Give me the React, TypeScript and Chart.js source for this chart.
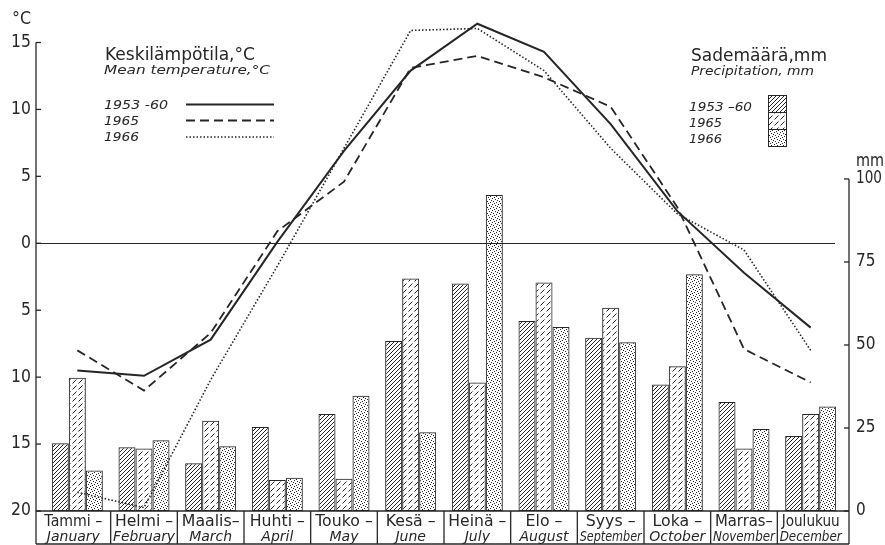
import React, { useEffect, useRef } from "react";
import { Chart, registerables } from "chart.js";

Chart.register(...registerables);

// ---------- data ----------
const monthsFi = ["Tammi –", "Helmi –", "Maalis–", "Huhti –", "Touko –", "Kesä –", "Heinä –", "Elo –", "Syys –", "Loka –", "Marras–", "Joulukuu"];
const monthsEn = ["January", "February", "March", "April", "May", "June", "July", "August", "September", "October", "November", "December"];

const temp1953_60 = [-9.5, -9.9, -7.2, 0.1, 6.9, 12.9, 16.4, 14.3, 8.9, 2.4, -2.2, -6.3];
const temp1965 = [-8.0, -11.0, -6.7, 0.9, 4.6, 13.1, 14.0, 12.4, 10.2, 2.7, -7.9, -10.4];
const temp1966 = [-18.6, -19.75, -10.2, -1.7, 7.1, 15.9, 16.05, 12.9, 7.1, 2.2, -0.5, -8.0];

const prec1953_60 = [20.4, 19.2, 14.4, 25.3, 29.2, 51.2, 68.5, 57.2, 52.2, 38.1, 32.8, 22.6];
const prec1965 = [40.1, 18.8, 27.2, 9.3, 9.7, 70.0, 38.7, 68.8, 61.2, 43.6, 18.8, 29.2];
const prec1966 = [12.2, 21.3, 19.5, 10.0, 34.7, 23.7, 95.2, 55.4, 50.8, 71.3, 24.7, 31.5];

const tempTicks = [15, 10, 5, 0, -5, -10, -15, -20];
const precTicks = [0, 25, 50, 75, 100];
const seriesLabels = ["1953 –60", "1965", "1966"];

const INK = "#262626";
const FONT = "'DejaVu Sans', 'Liberation Sans', sans-serif";

function makePattern(kind: string): CanvasPattern | string {
  const c = document.createElement("canvas");
  const ctx = c.getContext("2d")!;
  if (kind === "dense") {
    c.width = 4; c.height = 4;
    ctx.strokeStyle = INK; ctx.lineWidth = 1;
    ctx.beginPath();
    ctx.moveTo(-1, 5); ctx.lineTo(5, -1);
    ctx.moveTo(-1, 1); ctx.lineTo(1, -1);
    ctx.moveTo(3, 5); ctx.lineTo(5, 3);
    ctx.stroke();
  } else if (kind === "dash") {
    c.width = 12; c.height = 12;
    ctx.strokeStyle = INK; ctx.lineWidth = 1;
    ctx.beginPath();
    ctx.moveTo(0.5, 5.5); ctx.lineTo(4.5, 1.5);
    ctx.moveTo(6.5, 11.5); ctx.lineTo(10.5, 7.5);
    ctx.moveTo(6.5, 5.5); ctx.lineTo(10.5, 1.5);
    ctx.moveTo(0.5, 11.5); ctx.lineTo(4.5, 7.5);
    ctx.stroke();
  } else {
    c.width = 6; c.height = 6;
    ctx.fillStyle = INK;
    const dots = [[0, 0], [3, 1], [1, 3], [4, 4], [5, 2], [2, 5]];
    for (const [x, y] of dots) ctx.fillRect(x, y, 1, 1);
  }
  return ctx.createPattern(c, "repeat") || INK;
}

function txt(ctx: CanvasRenderingContext2D, s: string, x: number, y: number, font: string, align: string, width?: number) {
  ctx.save();
  ctx.font = font;
  ctx.fillStyle = INK;
  ctx.textAlign = "left";
  ctx.textBaseline = "middle";
  const w = ctx.measureText(s).width;
  const tw = width ?? w;
  const sx = tw / w;
  const left = align === "center" ? x - tw / 2 : align === "right" ? x - tw : x;
  ctx.translate(left, y);
  ctx.scale(sx, 1);
  ctx.fillText(s, 0, 0);
  ctx.restore();
}

function natW(ctx: CanvasRenderingContext2D, s: string, font: string, k: number) {
  ctx.save();
  ctx.font = font;
  const w = ctx.measureText(s).width * k;
  ctx.restore();
  return w;
}

export default function App() {
  const ref = useRef<HTMLCanvasElement>(null);
  useEffect(() => {
    const canvas = ref.current!;
    const pats = [makePattern("dense"), makePattern("dash"), makePattern("dots")];
    const AX_L = 36, AX_R = 849, BOX_B = 544;

    const decor = {
      id: "decor",
      beforeDatasetsDraw(chart: any) {
        const ctx = chart.ctx as CanvasRenderingContext2D;
        const yT = chart.scales.yT;
        const y0 = Math.round(yT.getPixelForValue(0)) + 0.5;
        ctx.save();
        ctx.strokeStyle = INK; ctx.lineWidth = 1.2;
        ctx.beginPath(); ctx.moveTo(AX_L, y0); ctx.lineTo(835, y0); ctx.stroke();
        ctx.restore();
      },
      afterDraw(chart: any) {
        const ctx = chart.ctx as CanvasRenderingContext2D;
        const x = chart.scales.x, yT = chart.scales.yT, yP = chart.scales.yP;
        const numFont = `17px ${FONT}`;
        ctx.save();
        ctx.strokeStyle = INK; ctx.lineWidth = 1.3; ctx.setLineDash([]);
        // left axis
        const yTop = yT.getPixelForValue(15);
        ctx.beginPath(); ctx.moveTo(AX_L, yTop); ctx.lineTo(AX_L, BOX_B); ctx.stroke();
        for (const t of tempTicks) {
          const y = yT.getPixelForValue(t);
          ctx.beginPath(); ctx.moveTo(AX_L, y); ctx.lineTo(AX_L + 5, y); ctx.stroke();
          const s = String(Math.abs(t));
          txt(ctx, s, AX_L - 5, y, numFont, "right", natW(ctx, s, numFont, 0.92));
        }
        txt(ctx, "°C", 12, 20, numFont, "left", 19);
        // right axis
        const yTopR = yP.getPixelForValue(100);
        ctx.beginPath(); ctx.moveTo(AX_R, yTopR); ctx.lineTo(AX_R, BOX_B); ctx.stroke();
        for (const p of precTicks) {
          const y = yP.getPixelForValue(p);
          ctx.beginPath(); ctx.moveTo(AX_R - 5, y); ctx.lineTo(AX_R, y); ctx.stroke();
          const s = String(p);
          txt(ctx, s, AX_R + 7, y, numFont, "left", natW(ctx, s, numFont, p === 100 ? 0.8 : 0.9));
        }
        txt(ctx, "mm", 856, 162, numFont, "left", 28);
        // bottom box
        const yb = yP.getPixelForValue(0);
        ctx.beginPath(); ctx.moveTo(AX_L, yb); ctx.lineTo(AX_R, yb); ctx.stroke();
        ctx.beginPath(); ctx.moveTo(AX_L, BOX_B); ctx.lineTo(AX_R, BOX_B); ctx.stroke();
        for (let i = 0; i < monthsFi.length - 1; i++) {
          const sx = (x.getPixelForValue(i) + x.getPixelForValue(i + 1)) / 2;
          ctx.beginPath(); ctx.moveTo(sx, yb); ctx.lineTo(sx, BOX_B); ctx.stroke();
        }
        for (let i = 0; i < monthsFi.length; i++) {
          const cx = x.getPixelForValue(i) + (i === 0 ? -4 : 0);
          const f1 = `15px ${FONT}`;
          const w1 = Math.min(natW(ctx, monthsFi[i], f1, 1.05), 58);
          txt(ctx, monthsFi[i], cx, 522, f1, "center", w1);
          const f2 = `italic 14px ${FONT}`;
          const w2 = Math.min(natW(ctx, monthsEn[i], f2, 1), i === 0 ? 70 : 62);
          txt(ctx, monthsEn[i], cx, 537, f2, "center", w2);
        }
        // temperature legend
        txt(ctx, "Keskilämpötila,°C", 105, 55, `18px ${FONT}`, "left", 150);
        txt(ctx, "Mean temperature,°C", 104, 71, `italic 13px ${FONT}`, "left", 166);
        const ly = [104.5, 120.5, 137];
        const dashes = [[], [9, 5], [1.5, 2]];
        const widths = [2, 1.8, 1.6];
        for (let k = 0; k < 3; k++) {
          txt(ctx, seriesLabels[k].replace("–", "-"), 104, ly[k] + 1, `italic 13px ${FONT}`, "left", k === 0 ? 64 : 35);
          ctx.save();
          ctx.setLineDash(dashes[k]); ctx.lineWidth = widths[k];
          ctx.beginPath(); ctx.moveTo(186, ly[k]); ctx.lineTo(274, ly[k]); ctx.stroke();
          ctx.restore();
        }
        // precipitation legend
        txt(ctx, "Sademäärä,mm", 691, 56, `18px ${FONT}`, "left", 136);
        txt(ctx, "Precipitation, mm", 691, 72, `italic 13px ${FONT}`, "left", 123);
        const by = [108, 124, 140];
        for (let k = 0; k < 3; k++) {
          txt(ctx, seriesLabels[k], 689, by[k], `italic 13px ${FONT}`, "left", k === 0 ? 63 : 33);
          const ry = 95 + k * 17;
          ctx.fillStyle = pats[k] as any;
          ctx.fillRect(768, ry, 18, 17);
          ctx.lineWidth = 1;
          ctx.strokeRect(768.5, ry + 0.5, 18, 17);
        }
        ctx.restore();
      },
    };

    const barDs = (label: string, data: number[], k: number) => ({
      type: "bar" as const,
      label,
      data,
      yAxisID: "yP",
      backgroundColor: pats[k],
      borderColor: INK,
      borderWidth: 1,
      borderSkipped: false,
      categoryPercentage: 0.765,
      barPercentage: 1.0,
      order: 2,
    });
    const lineDs = (label: string, data: number[], dash: number[], w: number) => ({
      type: "line" as const,
      label,
      data,
      yAxisID: "yT",
      borderColor: INK,
      borderWidth: w,
      borderDash: dash,
      pointRadius: 0,
      tension: 0,
      fill: false,
      clip: false as any,
      order: 1,
    });

    const chart = new Chart(canvas, {
      type: "bar",
      data: {
        labels: monthsEn,
        datasets: [
          barDs("1953-60", prec1953_60, 0),
          barDs("1965", prec1965, 1),
          barDs("1966", prec1966, 2),
          lineDs("1953-60", temp1953_60, [], 2),
          lineDs("1965", temp1965, [9, 5], 1.8),
          lineDs("1966", temp1966, [1.5, 2], 1.6),
        ] as any,
      },
      options: {
        responsive: false,
        animation: false,
        layout: { padding: { left: 44, right: 41, top: 42.5, bottom: 34 } },
        plugins: { legend: { display: false }, tooltip: { enabled: false }, title: { display: false } },
        scales: {
          x: { type: "category", display: false, offset: true, grid: { display: false } },
          yT: { type: "linear", display: false, min: -20, max: 15, position: "left" },
          yP: { type: "linear", display: false, min: 0, max: 141.1, position: "right" },
        },
      },
      plugins: [decor],
    });
    return () => chart.destroy();
  }, []);

  return (
    <div style={{ position: "fixed", left: 0, top: 0, width: 885, height: 545, background: "#fff" }}>
      <canvas ref={ref} width={885} height={545} style={{ display: "block", width: 885, height: 545 }} />
    </div>
  );
}
